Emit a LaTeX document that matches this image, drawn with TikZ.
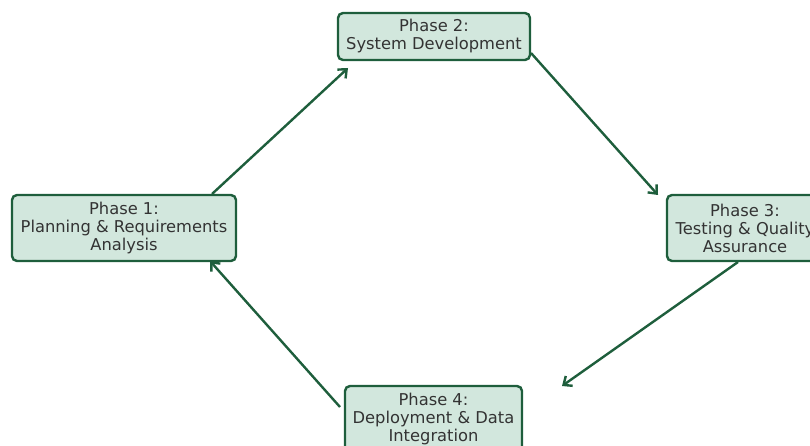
\documentclass[tikz,border=0pt]{standalone}
\usepackage{fontspec}
\setmainfont{DejaVu Sans}
\usetikzlibrary{arrows.meta}
\definecolor{boxfill}{HTML}{D2E7DD}
\definecolor{boxdraw}{HTML}{1E5E3C}
\definecolor{txt}{HTML}{333333}
\begin{document}
\begin{tikzpicture}[x=1pt,y=-1pt,
  phase/.style={draw=boxdraw, fill=boxfill, line width=2.4pt, rounded corners=5pt,
    text=txt, align=center, font=\fontsize{16.3}{18}\selectfont, inner sep=0pt},
  flow/.style={draw=boxdraw, line width=2.4pt, -{Straight Barb[length=7pt,width=12pt,line width=2.4pt]}}]
\useasboundingbox (0,0) rectangle (810,446);
\begin{scope}
\clip (0,0) rectangle (810,446);
\node[phase, minimum width=192pt, minimum height=47pt] (p2) at (434,36.5) {Phase 2:\\System Development};
\node[phase, minimum width=224pt, minimum height=66pt] (p1) at (124,228) {Phase 1:\\Planning \& Requirements\\Analysis};
\node[phase, minimum width=156pt, minimum height=66pt] (p3) at (745,228) {Phase 3:\\Testing \& Quality\\Assurance};
\node[phase, minimum width=177pt, minimum height=66pt] (p4) at (433.5,419) {Phase 4:\\Deployment \& Data\\Integration};
\coordinate (a1s) at (212,194);
\coordinate (a1e) at (348,68);
\coordinate (a2s) at (531,53);
\coordinate (a2e) at (658,195);
\coordinate (a3s) at (738,262);
\coordinate (a3e) at (562,386);
\coordinate (a4s) at (340,407);
\coordinate (a4e) at (210,261);
\end{scope}
\draw[flow] (a1s) -- (a1e);
\draw[flow] (a2s) -- (a2e);
\draw[flow] (a3s) -- (a3e);
\draw[flow] (a4s) -- (a4e);
\end{tikzpicture}
\end{document}
